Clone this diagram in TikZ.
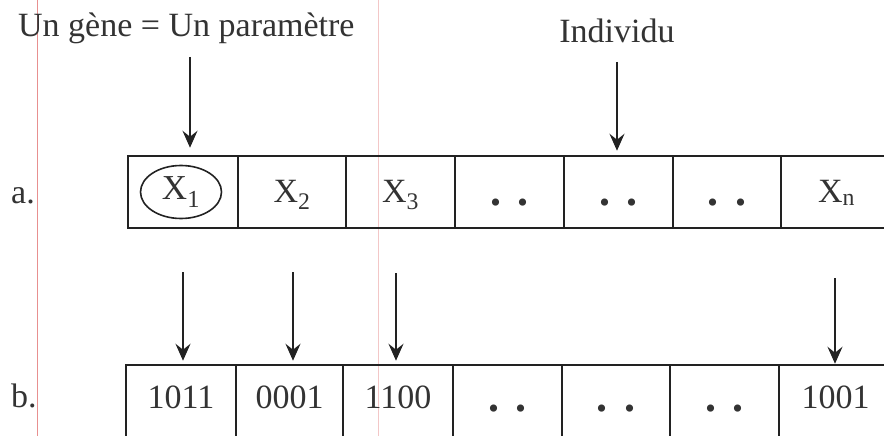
\documentclass[tikz,border=0pt]{standalone}
\usepackage{fontspec}
\setmainfont{Liberation Serif}
\usetikzlibrary{arrows.meta,shapes.geometric}
\definecolor{ink}{HTML}{222222}
\definecolor{txt}{HTML}{333333}
\definecolor{margin}{HTML}{E89090}
\newcommand{\dotpair}{\raisebox{-3pt}{\fontsize{44}{44}\selectfont\textbf{.}\hspace{17pt}\textbf{.}}}
\begin{document}
\begin{tikzpicture}[x=1pt,y=-1pt,
  cell/.style={draw=ink, line width=2.5pt, minimum height=72pt, inner sep=0pt,
    text=txt, font=\fontsize{34}{34}\selectfont, text depth=0pt},
  cella/.style={cell, text height=20pt},
  cellb/.style={cell, text height=14pt},
  oval/.style={ellipse, draw=ink, line width=1.6pt, minimum width=81pt,
    minimum height=53pt, inner sep=0pt, text=txt, font=\fontsize{35}{35}\selectfont},
  caption/.style={anchor=base, inner sep=0pt, text=txt, font=\fontsize{34}{34}\selectfont},
  arr/.style={draw=ink, line width=1.8pt,
    -{Stealth[length=17pt,width=15pt,inset=6pt]}},
  scanline/.style={draw=margin, line width=0.9pt}]
\useasboundingbox (0,0) rectangle (884,436);

% faint margin rules of the page
\draw[scanline] (37,0) -- (37,436);
\draw[scanline, draw opacity=0.5] (378,0) -- (378,436);

% headings
\node[caption, anchor=base west] (gene) at (18,37) {Un gène = Un paramètre};
\node[caption] (indiv) at (617,43) {Individu};

% row a: real-valued genes
\node[caption, anchor=base west] (la) at (11,203) {a.};
\node[cella, minimum width=110pt] (a1) at (183,192) {};
\node[oval] (g1) at (181,192) {X\textsubscript{1}};
\node[cella, minimum width=108pt] (a2) at (292,192) {X\textsubscript{2}};
\node[cella, minimum width=109pt] (a3) at (400.5,192) {X\textsubscript{3}};
\node[cella, minimum width=109pt] (a4) at (509.5,192) {\dotpair};
\node[cella, minimum width=109pt] (a5) at (618.5,192) {\dotpair};
\node[cella, minimum width=108pt] (a6) at (727,192) {\dotpair};
\node[cella, minimum width=111pt] (a7) at (836.5,192) {X\textsubscript{n}};

% row b: binary-coded genes
\node[caption, anchor=base west] (lb) at (11,407) {b.};
\node[cellb, minimum width=110pt] (b1) at (181,401) {1011};
\node[cellb, minimum width=107pt] (b2) at (289.5,401) {0001};
\node[cellb, minimum width=110pt] (b3) at (398,401) {1100};
\node[cellb, minimum width=109pt] (b4) at (507.5,401) {\dotpair};
\node[cellb, minimum width=108pt] (b5) at (616,401) {\dotpair};
\node[cellb, minimum width=109pt] (b6) at (724.5,401) {\dotpair};
\node[cellb, minimum width=113pt] (b7) at (835.5,401) {1001};

% arrow tails
\coordinate (t1) at (190,57);
\coordinate (t2) at (617,62);
\coordinate (u1) at (183,272);
\coordinate (u2) at (293,272);
\coordinate (u3) at (396,273);
\coordinate (u4) at (835,278);

\draw[arr, shorten >=7pt] (t1) -- (t1 |- a1.north);
\draw[arr, shorten >=4pt] (t2) -- (t2 |- a5.north);
\draw[arr, shorten >=3pt] (u1) -- (u1 |- b1.north);
\draw[arr, shorten >=3pt] (u2) -- (u2 |- b2.north);
\draw[arr, shorten >=3pt] (u3) -- (u3 |- b3.north);
\draw[arr, shorten >=0pt] (u4) -- (u4 |- b7.north);
\end{tikzpicture}
\end{document}
